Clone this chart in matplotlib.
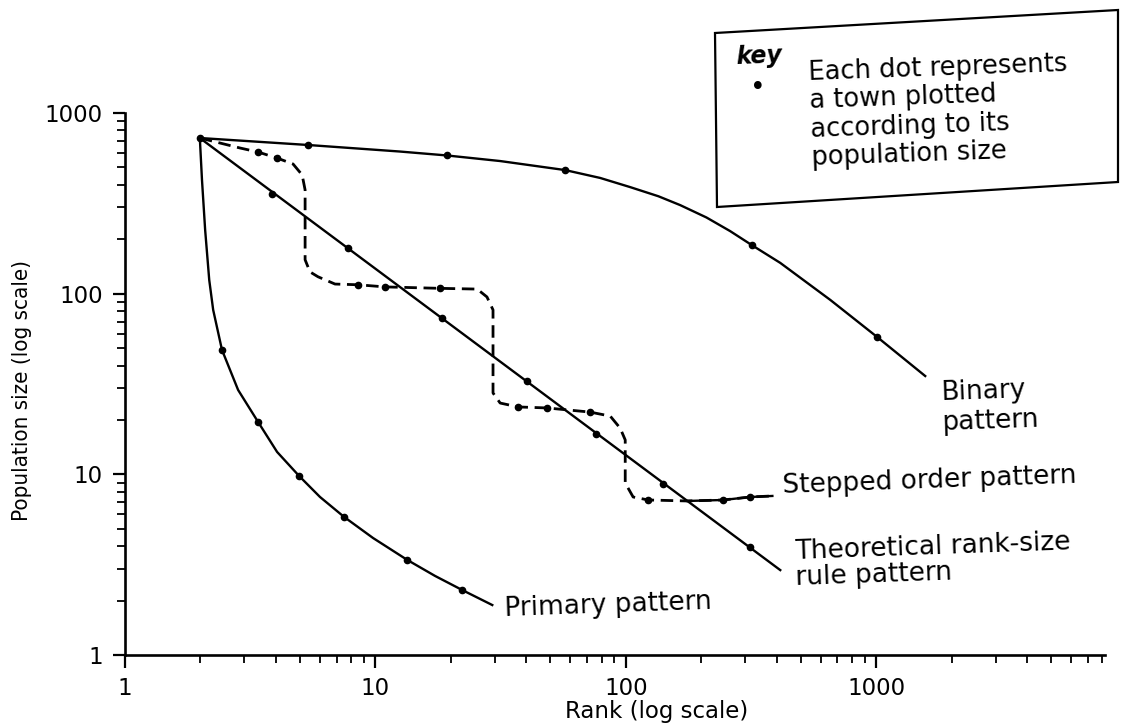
import matplotlib
matplotlib.use("Agg")
import matplotlib.pyplot as plt
from matplotlib.patches import Polygon
from matplotlib.ticker import FixedLocator, FixedFormatter, LogLocator, NullFormatter


# DATA (rank vs population size, both log scale)

# first town shared by every pattern
start_rank = 1.99
start_pop = 727

# theoretical rank-size rule: straight line plus towns along it
theo_line_rank = [1.99, 414]
theo_line_pop = [727, 2.95]
theo_dot_rank = [3.87, 7.78, 18.5, 40.4, 76.2, 141, 314]
theo_dot_pop = [356, 179, 73.3, 32.7, 16.7, 8.84, 3.96]

# binary pattern
binary_rank = [1.99, 5.39, 12.5, 19.3, 31.5, 57.3, 79.0, 104, 135, 165, 210, 261,
               320, 414, 656, 1010, 1570]
binary_pop = [727, 665, 612, 582, 542, 483, 437, 389, 346, 309, 264, 222,
              185, 148, 92.3, 57.5, 35.0]
binary_dot_rank = [5.39, 19.3, 57.3, 320, 1010]
binary_dot_pop = [665, 582, 483, 185, 57.5]

# primary (primate) pattern
primary_rank = [1.99, 2.03, 2.09, 2.17, 2.25, 2.44, 2.83, 3.40, 4.05, 4.96,
                6.01, 7.50, 9.79, 13.4, 17.3, 22.2, 29.3]
primary_pop = [727, 426, 225, 119, 81.3, 48.8, 29.3, 19.5, 13.3, 9.79,
               7.49, 5.81, 4.44, 3.36, 2.74, 2.29, 1.89]
primary_dot_rank = [2.44, 3.40, 4.96, 7.50, 13.4, 22.2]
primary_dot_pop = [48.8, 19.5, 9.79, 5.81, 3.36, 2.29]

# stepped order pattern
stepped_rank = [1.99, 2.88, 3.40, 4.05, 4.69, 5.10, 5.24, 5.24, 5.48, 5.90,
                6.90, 8.53, 10.9, 18.1, 25.5, 27.9, 29.5, 29.5, 31.5, 37.2,
                48.5, 72.1, 86.7, 95.0, 99.5, 99.5, 107, 123, 176, 245, 314, 385]
stepped_pop = [727, 640, 608, 563, 522, 454, 375, 154, 132, 124,
               113, 112, 109, 107, 106, 95.9, 81.3, 28.2, 24.8, 23.6,
               23.3, 22.1, 21.0, 18.0, 15.5, 8.95, 7.49, 7.21, 7.12, 7.21, 7.49, 7.59]
stepped_dot_rank = [3.40, 4.05, 8.53, 10.9, 18.1, 37.2, 48.5, 72.1, 123, 245, 314]
stepped_dot_pop = [608, 563, 112, 109, 107, 23.6, 23.3, 22.1, 7.21, 7.21, 7.49]

tick_values = [1, 10, 100, 1000]
tick_labels = ["1", "10", "100", "1000"]


plt.rcParams["font.family"] = ["DejaVu Sans"]

fig = plt.figure(figsize=(11.21, 7.28), dpi=100)
ax = fig.add_axes([0.1115, 0.1003, 0.8742, 0.7445])

ax.set_xscale("log")
ax.set_yscale("log")
ax.set_xlim(1, 8200)
ax.set_ylim(1, 1000)

lw = 1.7
dot = dict(linestyle="none", marker="o", markersize=4.5, color="black")

# lines
ax.plot(theo_line_rank, theo_line_pop, color="black", lw=lw)
ax.plot(binary_rank, binary_pop, color="black", lw=lw)
ax.plot(primary_rank, primary_pop, color="black", lw=lw)
ax.plot(stepped_rank, stepped_pop, color="black", lw=2.0, dashes=(4.5, 2.4),
        dash_capstyle="butt")
# solid tail that leads into the label
ax.plot(stepped_rank[-4:], stepped_pop[-4:], color="black", lw=lw)

# towns
ax.plot([start_rank], [start_pop], **dot)
ax.plot(theo_dot_rank, theo_dot_pop, **dot)
ax.plot(binary_dot_rank, binary_dot_pop, **dot)
ax.plot(primary_dot_rank, primary_dot_pop, **dot)
ax.plot(stepped_dot_rank, stepped_dot_pop, **dot)

# axes styling
for side in ["top", "right"]:
    ax.spines[side].set_visible(False)
for side in ["left", "bottom"]:
    ax.spines[side].set_linewidth(1.9)

ax.xaxis.set_major_locator(FixedLocator(tick_values))
ax.xaxis.set_major_formatter(FixedFormatter(tick_labels))
ax.yaxis.set_major_locator(FixedLocator(tick_values))
ax.yaxis.set_major_formatter(FixedFormatter(tick_labels))
ax.xaxis.set_minor_locator(LogLocator(base=10, subs=range(2, 10)))
ax.yaxis.set_minor_locator(LogLocator(base=10, subs=range(2, 10)))
ax.xaxis.set_minor_formatter(NullFormatter())
ax.yaxis.set_minor_formatter(NullFormatter())

ax.tick_params(axis="both", which="major", direction="out", length=9,
               width=1.6, labelsize=16.5, pad=7)
ax.tick_params(axis="both", which="minor", direction="out", length=6, width=1.3)

# series labels
lab = dict(transform=ax.transAxes, fontsize=19, color="black", rotation=2,
           rotation_mode="anchor")
ax.text(0.832, 0.508, "Binary\npattern", va="top", ha="left", **lab)
ax.text(0.671, 0.312, "Stepped order pattern", va="center", ha="left", **lab)
ax.text(0.683, 0.214, "Theoretical rank-size\nrule pattern", va="top", ha="left",
        linespacing=1.0, **lab)
ax.text(0.387, 0.085, "Primary pattern", va="center", ha="left", **lab)

# axis titles
fig.text(0.586, 0.022, "Rank (log scale)", fontsize=16.5, ha="center", va="center")
fig.text(0.0196, 0.464, "Population size (log scale)", fontsize=16,
         rotation=90, ha="center", va="center", fontstretch="condensed")

# key box (slightly skewed like the scanned page)
W, H = 1121.0, 728.0
corners = [(715, 33), (1118, 10), (1118, 182), (717, 207)]
box = Polygon([(x / W, 1 - y / H) for x, y in corners], closed=True,
              fill=False, edgecolor="black", lw=1.6, transform=fig.transFigure)
fig.add_artist(box)
fig.text(735 / W, 1 - 56 / H, "key", fontsize=17, style="italic",
         fontweight="bold", ha="left", va="center", rotation=2)
fig.text(758 / W, 1 - 88 / H, "\u2022", fontsize=19, ha="center", va="center")
fig.text(808 / W, 1 - 60 / H,
         "Each dot represents\na town plotted\naccording to its\npopulation size",
         fontsize=18.5, ha="left", va="top", rotation=2, rotation_mode="anchor",
         linespacing=1.12)

fig.savefig("out.png", dpi=100, facecolor="white")
